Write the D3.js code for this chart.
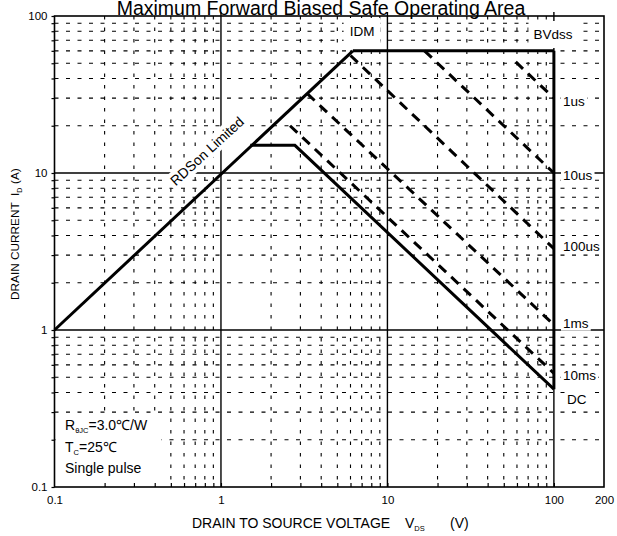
<!DOCTYPE html>
<html><head><meta charset="utf-8">
<script src="https://cdn.jsdelivr.net/npm/d3@7"></script>
<style>
body{margin:0;background:#fff}
svg{display:block}
text{font-family:"Liberation Sans",Arial,sans-serif;fill:#000}
</style>
</head><body>
<svg id="c" width="617" height="536"></svg>
<script>
// ---------- data ----------
const titleText = "Maximum Forward Biased Safe Operating Area";
const xTickValues = [0.1, 1, 10, 100, 200];
const xTickLabels = ["0.1", "1", "10", "100", "200"];
const yTickValues = [0.1, 1, 10, 100];
const yTickLabels = ["0.1", "1", "10", "100"];
const xMajorGrid = [1, 10, 100];
const yMajorGrid = [1, 10];
const minorMultipliers = [2, 3, 4, 5, 6, 7, 8, 9];
const xMinorDecades = [0.1, 1, 10];
const yMinorDecades = [0.1, 1, 10];

// limit lines (V, A)
const rdsonV = [0.1, 6.2];
const rdsonI = [1, 60];
const idmV = [6.2, 100];
const idmI = [60, 60];
const bvdssV = [100, 100];
const bvdssI = [60, 0.42];
const dcV = [1.5, 2.78, 100];
const dcI = [15, 15, 0.42];

// single-pulse lines
const pulseLabels = ["1us", "10us", "100us", "1ms", "10ms"];
const pulseStartV = [59, 16.7, 6.0, 3.3, 2.6];
const pulseStartI = [51, 60, 56, 32, 20];
const pulseEndV = [100, 100, 100, 100, 100];
const pulseEndI = [30, 10, 3.3, 1.08, 0.53];
const pulseLabelI = [28.8, 9.7, 3.43, 1.11, 0.517];
const dcLabel = "DC";
const dcLabelI = 0.364;

const annotIDM = "IDM";
const annotBV = "BVdss";
const annotRds = "RDSon Limited";

// ---------- drawing ----------
const svg = d3.select("#c");
const X0 = 54.5, X1 = 604, Y0 = 16, Y1 = 487;
const x = d3.scaleLog().domain([0.1, 200]).range([X0, X1]);
const y = d3.scaleLog().domain([0.1, 100]).range([Y1, Y0]);

const gridL = svg.append("g");
const labelL = svg.append("g");
const curveL = svg.append("g");
const axisL = svg.append("g");

const xMinor = xMinorDecades.flatMap(d => minorMultipliers.map(m => d * m));
const yMinor = yMinorDecades.flatMap(d => minorMultipliers.map(m => d * m));

gridL.selectAll(".vm").data(xMinor).join("line")
  .attr("x1", d => x(d)).attr("x2", d => x(d))
  .attr("y1", Y0).attr("y2", Y1)
  .attr("stroke", "#000").attr("stroke-width", 1.1)
  .attr("stroke-dasharray", "3.5,8");
gridL.selectAll(".hm").data(yMinor).join("line")
  .attr("x1", X0).attr("x2", X1)
  .attr("y1", d => y(d)).attr("y2", d => y(d))
  .attr("stroke", "#000").attr("stroke-width", 1.1)
  .attr("stroke-dasharray", "4,7.5");
gridL.selectAll(".vM").data(xMajorGrid).join("line")
  .attr("x1", d => x(d)).attr("x2", d => x(d))
  .attr("y1", Y0 - 4).attr("y2", Y1)
  .attr("stroke", "#000").attr("stroke-width", 1.4);
gridL.selectAll(".hM").data(yMajorGrid).join("line")
  .attr("x1", X0).attr("x2", X1)
  .attr("y1", d => y(d)).attr("y2", d => y(d))
  .attr("stroke", "#000").attr("stroke-width", 1.4);

// label helper with white background
function boxedText(g, tx, ty, str, size, anchor, pad) {
  const t = g.append("text").attr("x", tx).attr("y", ty)
    .attr("font-size", size).attr("text-anchor", anchor || "start").text(str);
  const b = t.node().getBBox();
  const p = pad || [3, 1];
  g.insert("rect", () => t.node())
    .attr("x", b.x - p[0]).attr("y", b.y - p[1])
    .attr("width", b.width + 2 * p[0]).attr("height", b.height + 2 * p[1])
    .attr("fill", "#fff");
  return t;
}

// legend box
const lg = labelL.append("g");
lg.append("rect").attr("x", X0 + 1).attr("y", 414).attr("width", 106).attr("height", Y1 - 415).attr("fill", "#fff");
const t1 = lg.append("text").attr("x", 65).attr("y", 430).attr("font-size", 14);
t1.append("tspan").text("R");
t1.append("tspan").attr("font-size", 7.5).attr("dy", 3).text("θJC");
t1.append("tspan").attr("dy", -3).text("=3.0℃/W");
const t2 = lg.append("text").attr("x", 65).attr("y", 452).attr("font-size", 14);
t2.append("tspan").text("T");
t2.append("tspan").attr("font-size", 7.5).attr("dy", 3).text("C");
t2.append("tspan").attr("dy", -3).text("=25℃");
lg.append("text").attr("x", 65).attr("y", 473).attr("font-size", 14).text("Single pulse");

// IDM / BVdss
boxedText(labelL, 362, 36, annotIDM, 13.5, "middle", [6, 6]);
boxedText(labelL, 553, 39, annotBV, 13.5, "middle", [5, 6]);

// RDSon label (rotated)
const rg = labelL.append("g").attr("transform", "translate(207,151) rotate(-42.5)");
boxedText(rg, 0, 5, annotRds, 14, "middle", [3, 1]);

// pulse labels
pulseLabels.forEach((lab, i) => {
  boxedText(labelL, 563, y(pulseLabelI[i]) + 4.8, lab, 13.5, "start", [2, 0]);
});
boxedText(labelL, 567, y(dcLabelI) + 4.8, dcLabel, 13.5, "start", [2, 0]);

// curves
const line = d3.line().x(d => x(d[0])).y(d => y(d[1]));
const zip = (a, b) => a.map((v, i) => [v, b[i]]);
const solid = [zip(rdsonV, rdsonI), zip(idmV, idmI), zip(bvdssV, bvdssI), zip(dcV, dcI)];
curveL.selectAll(".s").data(solid).join("path")
  .attr("d", line).attr("fill", "none").attr("stroke", "#000")
  .attr("stroke-width", 3).attr("stroke-linejoin", "miter");
const pulses = pulseLabels.map((l, i) => [[pulseStartV[i], pulseStartI[i]], [pulseEndV[i], pulseEndI[i]]]);
curveL.selectAll(".p").data(pulses).join("path")
  .attr("d", line).attr("fill", "none").attr("stroke", "#000")
  .attr("stroke-width", 3).attr("stroke-dasharray", "10,7");

// frame
axisL.append("rect").attr("x", X0).attr("y", Y0).attr("width", X1 - X0).attr("height", Y1 - Y0)
  .attr("fill", "none").attr("stroke", "#000").attr("stroke-width", 1.6);

// axes (ticks + labels)
const ayMinor = axisL.append("g").attr("transform", `translate(${X0},0)`)
  .call(d3.axisLeft(y).tickValues(yMinor.concat(yTickValues)).tickSize(3).tickFormat(""));
const axMinor = axisL.append("g").attr("transform", `translate(0,${Y1})`)
  .call(d3.axisBottom(x).tickValues(xMinor.concat(xMajorGrid)).tickSize(-4).tickFormat(""));
const ayLab = axisL.append("g").attr("transform", `translate(${X0},0)`)
  .call(d3.axisLeft(y).tickValues(yTickValues).tickSize(0).tickPadding(7)
    .tickFormat((d, i) => yTickLabels[i]));
const axLab = axisL.append("g").attr("transform", `translate(0,${Y1})`)
  .call(d3.axisBottom(x).tickValues(xTickValues).tickSize(0).tickPadding(9)
    .tickFormat((d, i) => xTickLabels[i]));
[ayMinor, axMinor, ayLab, axLab].forEach(g => {
  g.select(".domain").remove();
  g.selectAll(".tick line").attr("stroke", "#000").attr("stroke-width", 1.2);
  g.selectAll("text").attr("font-size", 11.5).attr("font-family", '"Liberation Sans",Arial,sans-serif').attr("fill", "#000");
});

// title
svg.append("text").attr("x", 321).attr("y", 14.5).attr("text-anchor", "middle")
  .attr("font-size", 19.5).text(titleText);

// x axis title
const xt = svg.append("text").attr("x", 192).attr("y", 528).attr("font-size", 14);
xt.append("tspan").text("DRAIN TO SOURCE VOLTAGE");
xt.append("tspan").attr("x", 405).text("V");
xt.append("tspan").attr("font-size", 7.5).attr("dy", 3).text("DS");
xt.append("tspan").attr("x", 450).attr("dy", -3).text("(V)");

// y axis title
const yt = svg.append("text").attr("transform", "translate(19,300) rotate(-90)").attr("font-size", 11.8);
yt.append("tspan").attr("x", 0).text("DRAIN CURRENT");
yt.append("tspan").attr("x", 104).text("I");
yt.append("tspan").attr("font-size", 7).attr("dy", 3).text("D");
yt.append("tspan").attr("x", 116).attr("dy", -3).text("(A)");
</script>
</body></html>
